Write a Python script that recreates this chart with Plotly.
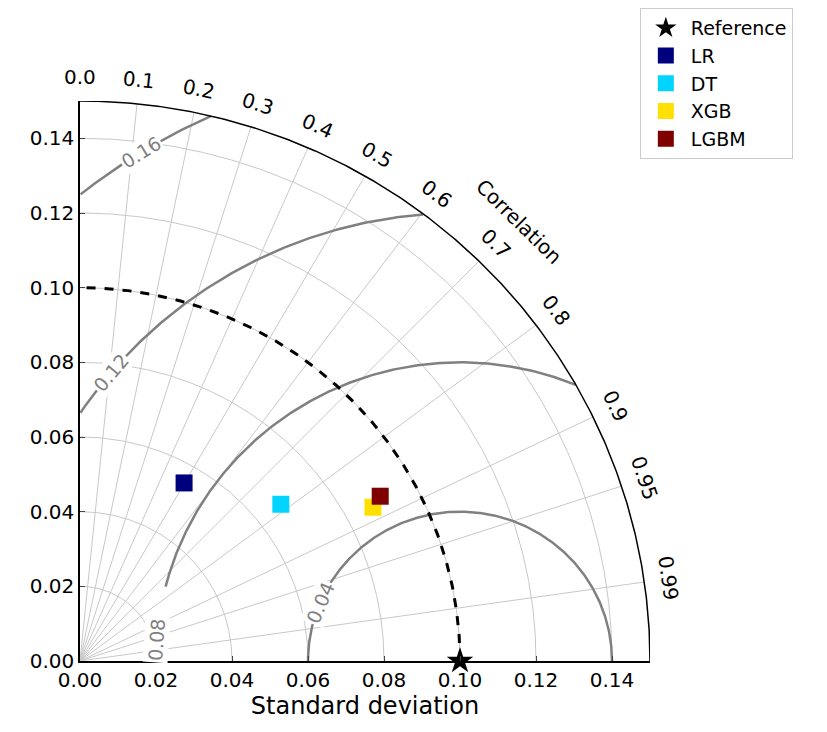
import numpy as np
import plotly.graph_objects as go

# model statistics (std dev, correlation)
models = ["LR", "DT", "XGB", "LGBM"]
model_std = [0.0550, 0.0675, 0.0874, 0.0905]
model_corr = [0.498, 0.783, 0.882, 0.873]
model_colors = ["#00007f", "#00d4ff", "#ffe000", "#7f0000"]
ref_std = 0.10

corr_ticks = [0.0, 0.1, 0.2, 0.3, 0.4, 0.5, 0.6, 0.7, 0.8, 0.9, 0.95, 0.99]
std_grid = [0.02, 0.04, 0.06, 0.08, 0.10, 0.12, 0.14]
rms_levels = [0.04, 0.08, 0.12, 0.16]
rms_label_angle = [157, 176, 140, 121.6]
smax = 0.15

fig = go.Figure()
grey = "#c8c8c8"
t = np.linspace(0, np.pi / 2, 300)

# std dev arcs
for s in std_grid:
    fig.add_trace(go.Scatter(x=s * np.cos(t), y=s * np.sin(t), mode="lines",
                             line=dict(color=grey, width=1), showlegend=False, hoverinfo="skip"))
# correlation rays
for c in corr_ticks[1:]:
    a = np.arccos(c)
    fig.add_trace(go.Scatter(x=[0, smax * np.cos(a)], y=[0, smax * np.sin(a)], mode="lines",
                             line=dict(color=grey, width=1), showlegend=False, hoverinfo="skip"))

# RMS contours
phi = np.linspace(0, np.pi, 600)
for lev, la in zip(rms_levels, rms_label_angle):
    x = ref_std + lev * np.cos(phi)
    y = lev * np.sin(phi)
    r = np.hypot(x, y)
    ok = (r <= smax) & (r >= 0.03) & (x >= 0)
    x = np.where(ok, x, None)
    y = np.where(ok, y, None)
    fig.add_trace(go.Scatter(x=x, y=y, mode="lines", line=dict(color="#808080", width=2.5),
                             showlegend=False, hoverinfo="skip"))
    p = np.radians(la)
    fig.add_annotation(x=ref_std + lev * np.cos(p), y=lev * np.sin(p), text=f"{lev:.2f}",
                       showarrow=False, textangle=90 - la, bgcolor="white",
                       font=dict(size=19, color="#808080"))

# reference std arc
fig.add_trace(go.Scatter(x=ref_std * np.cos(t), y=ref_std * np.sin(t), mode="lines",
                         line=dict(color="black", width=3, dash="dash"), showlegend=False, hoverinfo="skip"))
# outer arc
fig.add_trace(go.Scatter(x=smax * np.cos(t), y=smax * np.sin(t), mode="lines",
                         line=dict(color="black", width=1.5), showlegend=False, hoverinfo="skip",
                         cliponaxis=False))

# correlation labels (paper coords so they are not hidden outside the range)
for c in corr_ticks:
    a = np.arccos(c)
    lab = f"{c:.1f}" if round(c, 1) == c else f"{c:g}"
    fig.add_annotation(x=0.1565 * np.cos(a) / smax, y=0.1565 * np.sin(a) / smax,
                       xref="paper", yref="paper", xanchor="center", yanchor="middle",
                       text=lab, showarrow=False,
                       textangle=90 - np.degrees(a), font=dict(size=20, color="black"))
fig.add_annotation(x=0.165 * np.cos(np.radians(45.5)) / smax, y=0.165 * np.sin(np.radians(45.5)) / smax,
                   xref="paper", yref="paper", xanchor="center", yanchor="middle",
                   text="Correlation", showarrow=False, textangle=44.5,
                   font=dict(size=20, color="black"))

# points
fig.add_trace(go.Scatter(x=[ref_std], y=[0], mode="markers", name="Reference",
                         marker=dict(symbol="star", size=20, color="black"), cliponaxis=False))
for m, s, c, col in zip(models, model_std, model_corr, model_colors):
    a = np.arccos(c)
    fig.add_trace(go.Scatter(x=[s * np.cos(a)], y=[s * np.sin(a)], mode="markers", name=m,
                             marker=dict(symbol="square", size=17, color=col)))

fig.update_layout(
    width=827, height=732, plot_bgcolor="white", paper_bgcolor="white",
    margin=dict(l=72, r=185, t=93, b=79, autoexpand=False),
    font=dict(family="DejaVu Sans", size=20, color="black"),
    legend=dict(x=0.764, y=1.0, xref="container", yref="container", xanchor="left", yanchor="top",
                bordercolor="#cccccc", borderwidth=1, font=dict(size=19), itemwidth=40, tracegroupgap=4),
)
fig.update_xaxes(range=[0, smax], dtick=0.02, tickformat=".2f", showgrid=False, zeroline=False,
                 showline=True, linecolor="black", linewidth=1.5, ticks="inside", automargin=False,
                 title_text="Standard deviation", title_standoff=4)
fig.update_yaxes(range=[0, smax], dtick=0.02, tickformat=".2f", showgrid=False, zeroline=False,
                 showline=True, linecolor="black", linewidth=1.5, ticks="inside", automargin=False)

fig.write_html("out.html")
